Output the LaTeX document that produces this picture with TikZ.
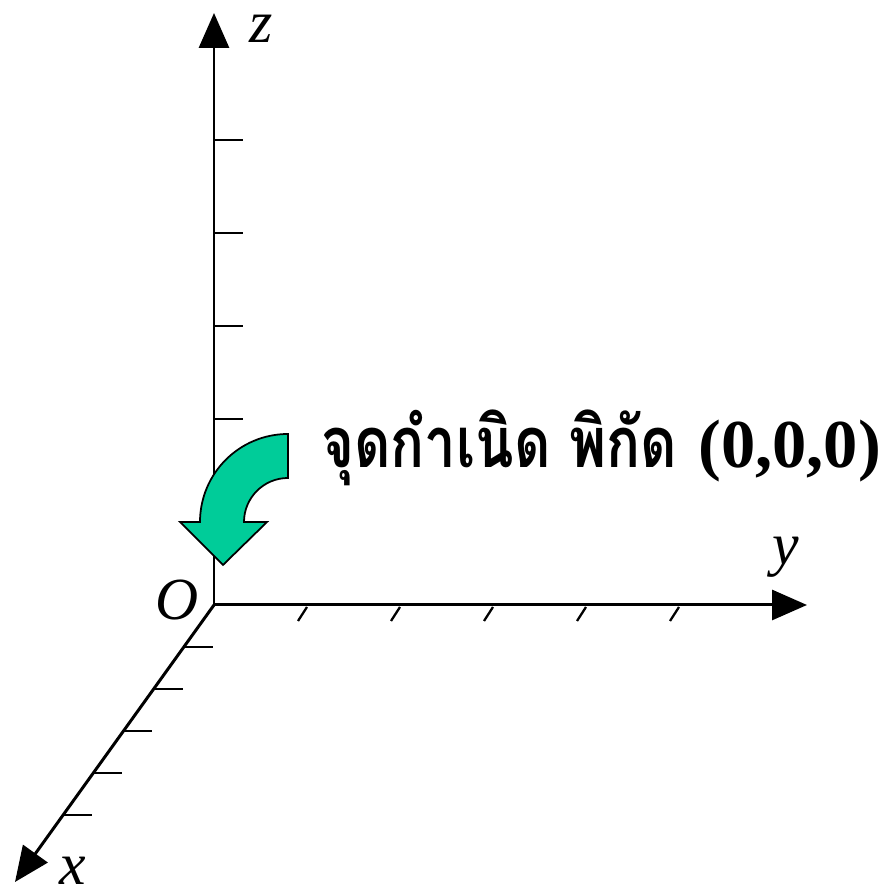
\documentclass[tikz,border=0pt]{standalone}
\usepackage{fontspec}
\usepackage{graphicx}
\setmainfont{Liberation Serif}
\newfontfamily\thaifont[Script=Thai]{Loma}
\usetikzlibrary{arrows.meta,calc}

\tikzset{
  axis/.style={line width=1.7pt,-{Triangle[length=7mm,width=6mm]}},
  tick/.style={line width=1.3pt},
  axlabel/.style={font=\fontsize{34}{34}\selectfont\itshape,inner sep=0pt,text height=15pt,text depth=0pt},
  bend arrow/.style={fill={rgb,255:red,0;green,204;blue,153},draw=black,line width=1pt,line join=miter}
}

\begin{document}
\begin{tikzpicture}[x=0.02cm,y=0.02cm]
  \useasboundingbox (0,0) rectangle (889,888);
  \coordinate (O) at (214,283);
  \coordinate (Z) at (214,875);
  \coordinate (Y) at (807,283);
  \coordinate (X) at (15,6);

  \foreach \i in {1,...,5} {
    \draw[tick] ($(O)+(0,93*\i)$) -- ++(29,0);
    \draw[tick] ($(O)+(93*\i,-2)$) -- ++(-9,-14);
    \draw[tick] ($(O)!{0.1516*\i}!(X)$) -- ++(29,0);
  }

  \draw[axis] (O) -- (Z);
  \draw[axis] (O) -- (Y);
  \draw[axis] (O) -- (X);

  \node[axlabel] (zlab) at (261,859) {z};
  \node[axlabel] (ylab) at (786,337) {y};
  \node[axlabel] (xlab) at (73,17) {x};
  \node[axlabel,text height=22.5pt] (olab) at (177,288) {O};

  \filldraw[bend arrow] (288,454) arc[start angle=90,end angle=180,radius=88]
    -- (180,366) -- (223,323) -- (267,366) -- (244,366)
    arc[start angle=180,end angle=90,radius=44] -- cycle;

  \node[anchor=base west,inner sep=0pt] (origin) at (321,420)
    {\bfseries\scalebox{0.8}[1]{\fontsize{40}{40}\selectfont\thaifont จุดกำเนิด พิกัด}\hspace{12pt}{\fontsize{39}{39}\selectfont (0,0,0)}};
\end{tikzpicture}
\end{document}
